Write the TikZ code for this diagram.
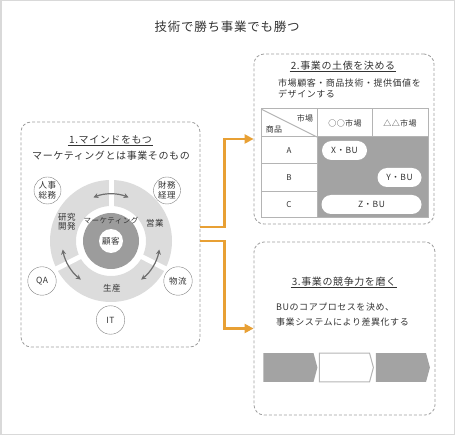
\documentclass[tikz,border=0pt]{standalone}
\usepackage{fontspec}
\setmainfont{Noto Sans CJK JP}[LetterSpace=6]
\usepackage{tikz}
\usetikzlibrary{shapes,arrows.meta,calc}
\definecolor{txt}{HTML}{333333}
\definecolor{framegray}{HTML}{D9D9D9}
\definecolor{dashgray}{HTML}{9E9E9E}
\definecolor{flowcolor}{HTML}{E8A034}
\definecolor{ringgray}{HTML}{DCDCDC}
\definecolor{coregray}{HTML}{9C9C9C}
\definecolor{tabgray}{HTML}{A3A3A3}
\definecolor{gridgray}{HTML}{B4B4B4}
\definecolor{arrowgray}{HTML}{6E6E6E}
\tikzstyle{panel} = [rectangle, rounded corners=10pt, draw=dashgray, dash pattern=on 3pt off 2pt, line width=0.8pt]
\tikzstyle{heading} = [font=\fontsize{10}{12}\selectfont, text=txt, inner sep=1pt]
\tikzstyle{underline} = [draw=txt, line width=0.7pt]
\tikzstyle{body} = [font=\fontsize{9}{10.5}\selectfont, text=txt, align=left, inner sep=0pt]
\tikzstyle{dept} = [circle, draw=gray, fill=white, minimum size=27pt, inner sep=0pt, align=center, font=\fontsize{8.5}{9.5}\selectfont, text=txt]
\tikzstyle{ringtxt} = [font=\fontsize{8.5}{9.5}\selectfont, text=txt, align=center, inner sep=0pt]
\tikzstyle{bu} = [rectangle, rounded corners=9.5pt, fill=white, minimum height=19pt, inner sep=0pt, font=\fontsize{8.5}{10}\selectfont, text=txt]
\tikzstyle{tabtxt} = [font=\fontsize{8}{10}\selectfont, text=txt, inner sep=0pt]
\tikzstyle{grid} = [draw=gridgray, line width=1pt]
\tikzstyle{proc} = [shape=signal, signal to=east, signal pointer angle=150, minimum width=54pt, minimum height=28.5pt, inner sep=0pt]
\tikzstyle{orangeflow} = [draw=flowcolor, line width=2.5pt, -{Triangle[length=9pt,width=9pt]}]
\tikzstyle{cyclearrow} = [draw=arrowgray, line width=1.2pt, {Stealth[length=5pt,width=5pt]}-{Stealth[length=5pt,width=5pt]}]

\begin{document}
\begin{tikzpicture}[x=1pt, y=-1pt]
\useasboundingbox (0,0) rectangle (455,435);
\draw[framegray, line width=1.5pt] (0.75,0.75) rectangle (454.25,434.25);

\node (title) [font=\fontsize{12.5}{14}\selectfont, text=txt] at (227,26.5) {技術で勝ち事業でも勝つ};

\node (mind) [panel, minimum width=179pt, minimum height=225pt] at (110.5,234.5) {};
\node (field) [panel, minimum width=180pt, minimum height=170pt] at (344,139) {};
\node (compete) [panel, minimum width=181pt, minimum height=173pt] at (344.5,328.5) {};

\draw [orangeflow] ([yshift=7.5pt]mind.east) -- ++(24,0) |- (field.west);
\draw [orangeflow] ([yshift=-6.5pt]mind.east) -- ++(24,0) |- (compete.west);

\node (h1) [heading] at (110.5,139.5) {1.マインドをもつ};
\draw [underline] (h1.south west) -- (h1.south east);
\node (m1) [font=\fontsize{10}{12}\selectfont, text=txt] at (111,156) {マーケティングとは事業そのもの};

\coordinate (hub) at (111,241);
\fill[ringgray, even odd rule] (hub) circle[radius=61] (hub) circle[radius=35];
\draw[white, line width=5pt] (hub) -- ++(270:63);
\draw[white, line width=5pt] (hub) -- ++(153:63);
\draw[white, line width=5pt] (hub) -- ++(27:63);
\fill[coregray] (hub) circle[radius=28];
\node (client) [circle, fill=white, minimum size=24pt, inner sep=0pt, ringtxt] at (hub) {顧客};
\node (mkt) [font=\fontsize{7.5}{9}\selectfont, text=txt, inner sep=0pt] at (111,221) {マーケティング};
\node (rd) [ringtxt] at (67,222) {研究\\開発};
\node (sales) [ringtxt] at (155,223) {営業};
\node (prod) [ringtxt] at (112,288) {生産};

\draw [cyclearrow] ($(hub)+(248:47)$) arc[start angle=248, end angle=292, radius=47];
\draw [cyclearrow] ($(hub)+(170:49)$) arc[start angle=170, end angle=128, radius=49];
\draw [cyclearrow] ($(hub)+(10:49)$) arc[start angle=10, end angle=52, radius=49];

\node (hr) [dept] at (47.5,190.5) {人事\\総務};
\node (fin) [dept] at (167,190.5) {財務\\経理};
\node (qa) [dept, minimum size=28.5pt] at (42,281) {QA};
\node (logi) [dept, minimum size=28.5pt] at (178,281) {物流};
\node (it) [dept, minimum size=28.5pt] at (110.5,320) {IT};

\node (h2) [heading] at (343,65.5) {2.事業の土俵を決める};
\draw [underline] (h2.south west) -- (h2.south east);
\node (m2) [body, anchor=west] at (278,88.5) {市場顧客・商品技術・提供価値を\\デザインする};

\fill[tabgray] (317,137) rectangle (428,218);
\draw[grid] (261,109) rectangle (428,218);
\draw[grid] (261,137) -- (428,137);
\draw[grid] (317,109) -- (317,218);
\draw[grid] (372,109) -- (372,137);
\draw[grid] (261,164) -- (317,164);
\draw[grid] (261,192) -- (317,192);
\draw[grid] (261,109) -- (317,137);
\node (mk) [tabtxt] at (305,118.5) {市場};
\node (pr) [tabtxt] at (274,129.5) {商品};
\node (mk1) [tabtxt] at (345,123) {○○市場};
\node (mk2) [tabtxt] at (400,123) {△△市場};
\node (ra) [tabtxt] at (289,151) {A};
\node (rb) [tabtxt] at (289,178) {B};
\node (rc) [tabtxt] at (289,205) {C};
\node (xbu) [bu, minimum width=45pt] at (344.5,150.5) {X・BU};
\node (ybu) [bu, minimum width=44pt] at (399.5,177.5) {Y・BU};
\node (zbu) [bu, minimum width=100pt] at (371.5,204.5) {Z・BU};

\node (h3) [heading] at (344,281.5) {3.事業の競争力を磨く};
\draw [underline] (h3.south west) -- (h3.south east);
\node (m3) [body, anchor=west, font=\fontsize{9}{15}\selectfont] at (276,314.5) {BUのコアプロセスを決め、\\事業システムにより差異化する};

\node (proc1) [proc, fill=tabgray] at (288.5,367.5) {};
\node (proc2) [proc, fill=white, draw=gridgray, line width=1pt] at (344.5,367.5) {};
\node (proc3) [proc, fill=tabgray] at (401,367.5) {};
\end{tikzpicture}
\end{document}
